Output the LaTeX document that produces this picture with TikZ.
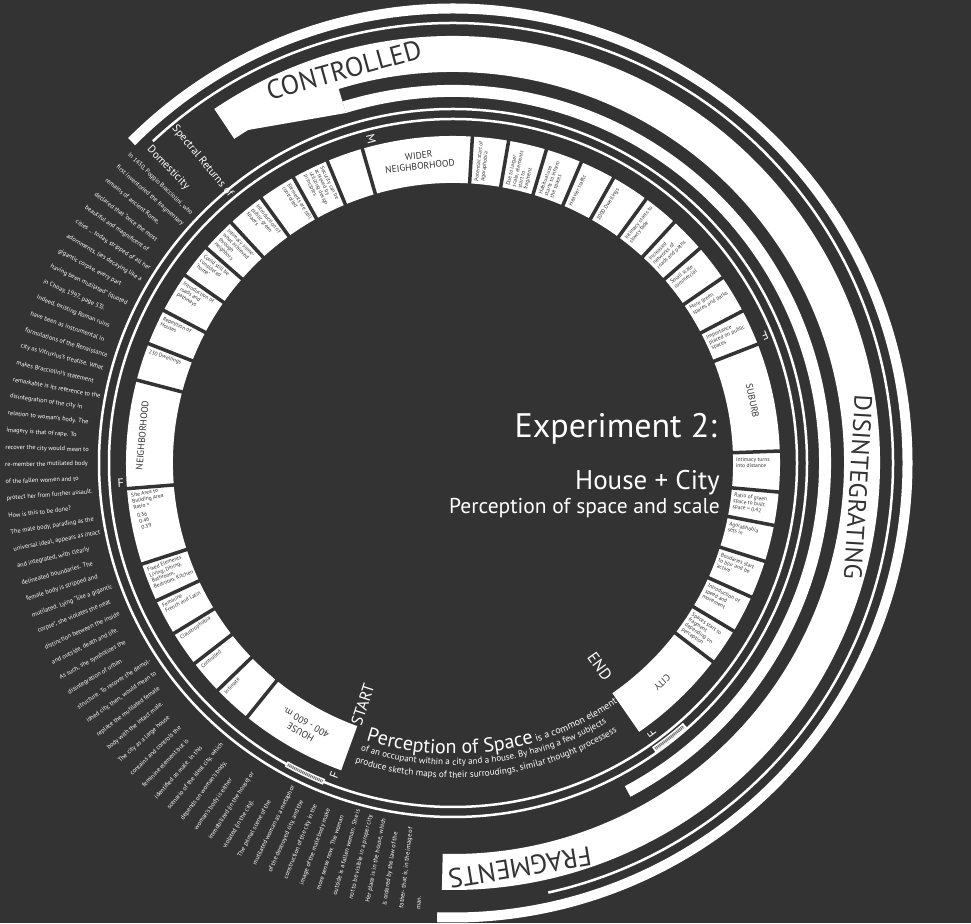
\documentclass[tikz,border=0pt]{standalone}
\usepackage{fontspec}
\setmainfont{PT Sans}
\usetikzlibrary{decorations.text}
\definecolor{bg}{HTML}{333333}
\newcommand\lbox[4]{\node[boxtxt, rotate={(#1+#2)/2-180}, anchor=north west] (#4) at ({#1+0.9}:324) {#3};}
\newcommand\rbox[4]{\node[boxtxt, rotate={(#1+#2)/2}, anchor=north west] (#4) at ({#2-0.9}:283) {#3};}
\begin{document}
\begin{tikzpicture}[x=1pt,y=1pt,
  boxtxt/.style={font=\fontsize{5.5}{6}\selectfont, text=bg, align=left, inner sep=0pt},
  biglab/.style={font=\fontsize{9.5}{11}\selectfont, text=bg, align=center, inner sep=0pt},
  sidetxt/.style={font=\fontsize{6.3}{7}\selectfont, text=white, inner sep=0pt, anchor=west},
  fmark/.style={font=\fontsize{12}{12}\selectfont, text=white, inner sep=0pt},
  bandlab/.style={font=\fontsize{27}{27}\selectfont, text=bg, inner sep=0pt},
  ctr/.style={text=white, anchor=base east, inner sep=0pt}]
\fill[bg] (0,0) rectangle (971,923);
\useasboundingbox (0,0) rectangle (971,923);
\begin{scope}[shift={(453,460)}]
% outer spiral-like arcs
\draw[white, line width=10pt] (135:454.5) arc[start angle=135, end angle=-92, radius=454.5pt];
\draw[white, line width=2.5pt] (133:440) arc[start angle=133, end angle=-77.5, radius=440pt];
\draw[white, line width=36pt] (124:409) arc[start angle=124, end angle=-91.5, radius=409pt];
\fill[white] (107:366) -- (107:400) arc[start angle=107, end angle=124, radius=400pt] -- (124:398) -- cycle;
\draw[white, line width=12pt] (107:372) arc[start angle=107, end angle=-62, radius=372pt];
\draw[white, line width=2.5pt] (0,0) circle[radius=344pt];
\draw[white, line width=2.5pt] (0,0) circle[radius=354pt];
% small strips
\draw[white, line width=6pt] (241:344) arc[start angle=241, end angle=248, radius=344pt];
\draw[bg!70!white, line width=3pt, dash pattern=on 1pt off 0.8pt] (241.3:344) arc[start angle=241.3, end angle=247.7, radius=344pt];
\draw[white, line width=6pt] (-55:350) arc[start angle=-55, end angle=-48.5, radius=350pt];
\draw[bg!70!white, line width=3pt, dash pattern=on 1pt off 0.8pt] (-54.7:350) arc[start angle=-54.7, end angle=-48.8, radius=350pt];
% ring of boxes
\fill[white] (250:280) arc[start angle=250, end angle=-55.3, radius=280pt] -- (-55.3:327) arc[start angle=-55.3, end angle=250, radius=327pt] -- cycle;
\foreach \a in {231,224,217.8,211.4,204.9,198,184.5,165.3,158.6,152.2,145,138.9,132.7,125.9,119.2,112.6,106.1,86.6,80.2,73.4,66.9,60.6,53.8,47.4,41,34.5,27.7,21.3,2.1,-5.1,-11,-17.5,-24.2,-30.9,-37.4}
  \draw[bg, line width=3.5pt] (\a:277) -- (\a:330);
% left boxes
\lbox{224}{231}{Intimate}{bIntimate}
\lbox{217.8}{224}{Controlled}{bControlled}
\lbox{211.4}{217.8}{Claustrophobia}{bClaus}
\lbox{204.9}{211.4}{Feminine\\French and Latin}{bFem}
\lbox{198}{204.9}{Fixed Elements\\Living, Dining,\\Bathroom,\\Bedroom, Kitchen}{bFixed}
\lbox{184.5}{198}{Site Area to\\Building Area\\Ratio =\\[3pt]\hspace*{2pt}0.36\\\hspace*{3pt}0.46\\\hspace*{4pt}0.39}{bSite}
\lbox{158.6}{165.3}{230 Dwellings}{bDw}
\lbox{152.2}{158.6}{Repetition of\\Houses}{bRep}
\lbox{145}{152.2}{Introduction of\\roads and\\pathways}{bRoads}
\lbox{138.9}{145}{Could still be\\considered\\`home'}{bHome}
\lbox{132.7}{138.9}{Intimacy some-\\what achieved\\through\\neighbors}{bIntSome}
\lbox{125.9}{132.7}{Introduction of\\public green\\spaces}{bPubGreen}
\lbox{119.2}{125.9}{Elements are still\\controlled}{bElem}
\lbox{112.6}{119.2}{Security can be\\achieved by\\utilizing design\\principles}{bSec}
% right boxes
\rbox{80.2}{86.6}{Potential start of\\Agoraphobia}{bPot}
\rbox{73.4}{80.2}{Due to larger\\scale, elements\\start to\\fragment}{bDue}
\rbox{66.9}{73.4}{Habitual use\\starts to inform\\the spaces}{bHab}
\rbox{60.6}{66.9}{Heavier traffic}{bHeavy}
\rbox{53.8}{60.6}{1000 Dwellings}{bThousand}
\rbox{47.4}{53.8}{Intimacy starts to\\slowly fade}{bFade}
\rbox{41}{47.4}{Increased\\networks of\\roads and paths}{bNet}
\rbox{34.5}{41}{Small scale\\commercial}{bSmall}
\rbox{27.7}{34.5}{More green\\spaces and parks}{bMore}
\rbox{21.3}{27.7}{Importance\\placed on public\\spaces}{bImp}
\rbox{-5.1}{2.1}{Intimacy turns\\into distance}{bTurns}
\rbox{-11}{-5.1}{Ratio of green\\space to built\\space = 0.42}{bRatio}
\rbox{-17.5}{-11}{Agoraphobia\\sets in}{bAgo}
\rbox{-24.2}{-17.5}{Boudaries start\\to blur and be\\`active'}{bBlur}
\rbox{-30.9}{-24.2}{Introduction of\\speed and\\movement}{bSpeed}
\rbox{-37.4}{-30.9}{Spaces start to\\fragment\\depending on\\perception}{bFrag}
% big labels in ring
\node[biglab, rotate=150.5] (lHouse) at (240.5:304) {HOUSE\\400 - 600 m.};
\node[biglab, rotate=-136.35] (lCity) at (-46.35:303) {CITY};
\node[biglab, rotate=-78.3] (lSuburb) at (11.7:306) {SUBURB};
\node[biglab, rotate=84.9] (lNeigh) at (174.9:312) {NEIGHBORHOOD};
\node[biglab, rotate=6.35] (lWider) at (96.35:304) {WIDER\\NEIGHBORHOOD};
% markers
\node[fmark, rotate=-157.7] (f1) at (22.3:337) {F};
\node[fmark, rotate=3.5] (f2) at (183.5:333) {F};
\node[fmark, rotate=69.2] (f3) at (249.2:334) {F};
\node[fmark, rotate=126.3] (f4) at (-53.7:336) {F};
\node[fmark, rotate=-75.8] (m1) at (104.2:334) {M};
\node[font=\fontsize{16}{16}\selectfont, text=white, rotate=72, inner sep=0pt] (start) at (249.5:258) {START};
\node[font=\fontsize{16}{16}\selectfont, text=white, rotate=-54.2, inner sep=0pt] (end) at (-54.2:251) {END};
% band labels
\node[bandlab, rotate=15.5] (tC) at (105.5:408) {CONTROLLED};
\node[bandlab, font=\fontsize{25}{25}\selectfont, rotate=-93.4] (tD) at (-3.4:406) {DISINTEGRATING};
\node[bandlab, rotate=-170.6] (tF) at (-80.6:410) {FRAGMENTS};
% title on the left
\node[font=\fontsize{11}{11}\selectfont, text=white, anchor=west, inner sep=0pt, rotate=-50.3] (sp1) at (129.7:437) {Spectral Returns of};
\node[font=\fontsize{11}{11}\selectfont, text=white, anchor=west, inner sep=0pt, rotate=-46] (sp2) at (134:438) {Domesticity};
% curved paragraph at the bottom (arcs around the centre)
\path[decorate, decoration={text along path, text color=white, text align=left,
  text={|\fontsize{20}{20}\selectfont|Perception of Space|\fontsize{9.8}{9.8}\selectfont| is a common element}}]
  (252.6:291) arc[start angle=252.6, end angle=318, radius=291pt];
\path[decorate, decoration={text along path, text color=white, text align=left,
  text={|\fontsize{9}{9}\selectfont|of an occupant within a city and a house. By having a few subjects}}]
  (252.2:302) arc[start angle=252.2, end angle=318, radius=302pt];
\path[decorate, decoration={text along path, text color=white, text align=left,
  text={|\fontsize{9.2}{9.2}\selectfont|produce sketch maps of their surroudings, similar thought processess}}]
  (251.9:315) arc[start angle=251.9, end angle=318, radius=315pt];
% long text on the left
\foreach \t [count=\i from 0] in {
{In 1430, Poggio Bracciolini, who},
{first inventoried the fragmentary},
{remains of ancient Rome,},
{declared that ``once the most},
{beautiful and magnificent of},
{cities \ldots\ today, stripped of all her},
{adornments, lies decaying like a},
{gigantic corpse, every part},
{having been mutilated'' (quoted},
{in Choay, 1997, page 53).},
{Indeed, existing Roman ruins},
{have been as instrumental in},
{formulations of the Renaissance},
{city as Vitruvius's treatise. What},
{makes Bracciolini's statement},
{remarkable is its reference to the},
{disintegration of the city in},
{relation to woman's body. The},
{imagery is that of rape. To},
{recover the city would mean to},
{re-member the mutilated body},
{of the fallen women and to},
{protect her from further assault.},
{How is this to be done?},
{The male body, parading as the},
{universal ideal, appears as intact},
{and integrated, with clearly},
{delineated boundaries. The},
{female body is stripped and},
{mutilated. Lying ``like a gigantic},
{corpse'', she violates the neat},
{distinction between the inside},
{and outside, death and life.},
{As such, she symbolizes the},
{disintegration of urban},
{structure. To recover the demol-},
{ished city, then, would mean to},
{replace the mutilated female},
{body with the intact male.},
{The city as a large house},
{contains and controls the},
{feminine element but is},
{identified as male. In this},
{scenario of the ideal city, which},
{depends on woman's body,},
{woman's body is either},
{immobilized (in the house) or},
{violated (in the city).},
{The primal scene of the},
{mutilated woman as a metaphor},
{of the destroyed city, and the},
{construction of the city in the},
{image of the male body make},
{more sense now. The woman},
{outside is a fallen woman. She is},
{not to be visible in a proper city.},
{Her place is in the house, which},
{is ordered by the law of the},
{father- that is, in the image of},
{man.}} {
  \pgfmathsetmacro\ang{136.4+2.19*\i}
  \node[sidetxt, rotate=\ang-180] (lt\i) at (\ang:448) {\t};
}
\end{scope}
% centre titles
\node[ctr, font=\fontsize{34}{34}\selectfont] (exp) at (717,485) {Experiment 2:};
\node[ctr, font=\fontsize{27}{27}\selectfont] (hc) at (720,433) {House + City};
\node[ctr, font=\fontsize{21.5}{21.5}\selectfont] (pss) at (720,409) {Perception of space and scale};
\end{tikzpicture}
\end{document}
